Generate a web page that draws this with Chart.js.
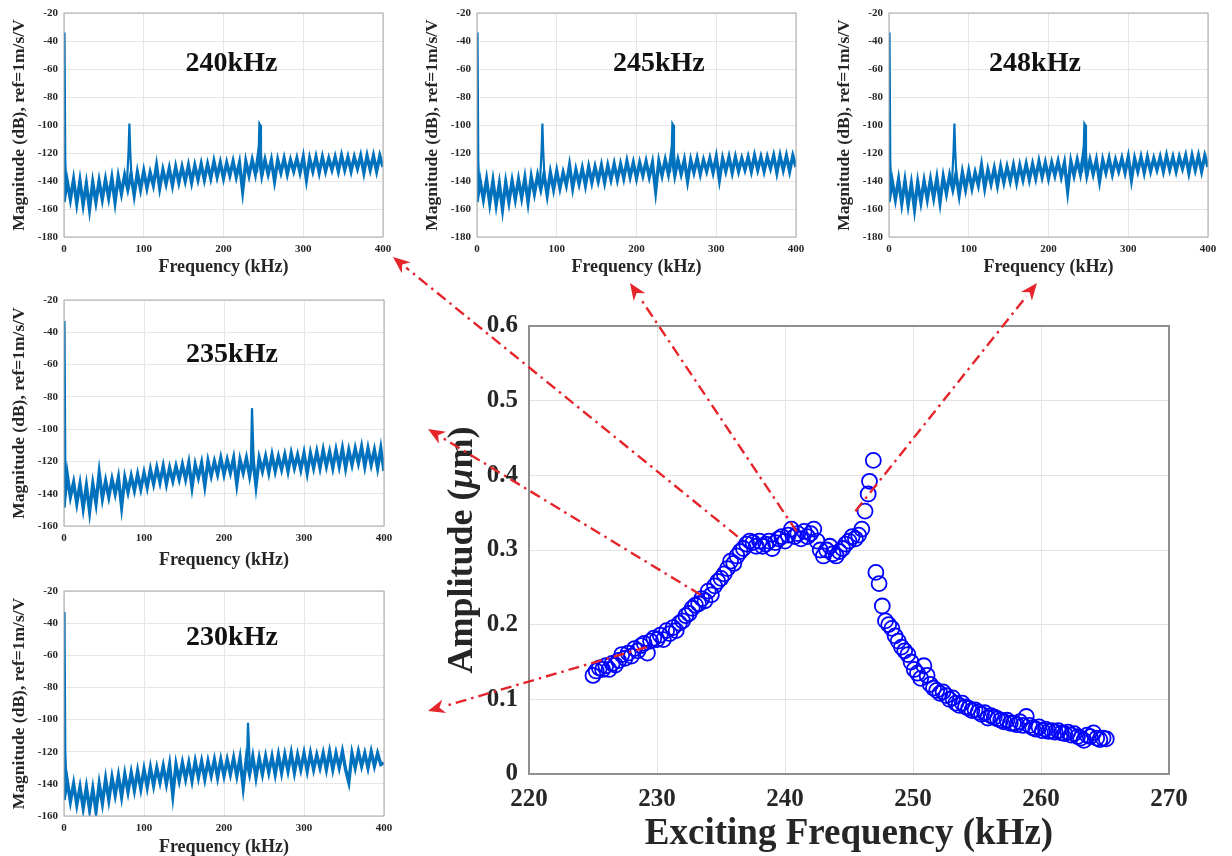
<!DOCTYPE html>
<html>
<head>
<meta charset="utf-8">
<title>Frequency response and spectra</title>
<script src="https://cdn.jsdelivr.net/npm/chart.js@4.4.1/dist/chart.umd.min.js"></script>
<style>
  html, body { margin: 0; padding: 0; background: #fff; }
  body { width: 1232px; height: 856px; position: relative; overflow: hidden; font-family: "Liberation Serif", "Times New Roman", serif; }
  .panel { position: absolute; }
  #arrows { position: absolute; left: 0; top: 0; pointer-events: none; }
  #ampTitle {
    position: absolute; left: 310px; top: 530px; width: 300px; height: 40px; line-height: 40px;
    text-align: center; font-weight: bold; font-size: 36px; color: #262626; white-space: nowrap;
    transform: rotate(-90deg); transform-origin: 50% 50%;
  }
</style>
</head>
<body>
<div class="panel" style="left:0;top:0;width:400px;height:280px"><canvas id="s240"></canvas></div>
<div class="panel" style="left:413px;top:0;width:400px;height:280px"><canvas id="s245"></canvas></div>
<div class="panel" style="left:825px;top:0;width:400px;height:280px"><canvas id="s248"></canvas></div>
<div class="panel" style="left:0;top:287px;width:400px;height:285px"><canvas id="s235"></canvas></div>
<div class="panel" style="left:0;top:578px;width:400px;height:278px"><canvas id="s230"></canvas></div>
<div class="panel" style="left:420px;top:300px;width:812px;height:556px"><canvas id="main"></canvas></div>
<div id="ampTitle">Amplitude (<i>μ</i>m)</div>
<canvas id="arrows" width="1232" height="856"></canvas>

<script>
// ---- sweep: exciting frequency (kHz) vs amplitude (um)
const ampFreq = [
  225.00, 225.25, 225.50, 225.75, 226.00, 226.25, 226.50, 226.75, 227.00, 227.25,
  227.50, 227.75, 228.00, 228.25, 228.50, 228.75, 229.00, 229.25, 229.50, 229.75,
  230.00, 230.25, 230.50, 230.75, 231.00, 231.25, 231.50, 231.75, 232.00, 232.25,
  232.50, 232.75, 233.00, 233.25, 233.50, 233.75, 234.00, 234.25, 234.50, 234.75,
  235.00, 235.25, 235.50, 235.75, 236.00, 236.25, 236.50, 236.75, 237.00, 237.25,
  237.50, 237.75, 238.00, 238.25, 238.50, 238.75, 239.00, 239.25, 239.50, 239.75,
  240.00, 240.25, 240.50, 240.75, 241.00, 241.25, 241.50, 241.75, 242.00, 242.25,
  242.50, 242.75, 243.00, 243.25, 243.50, 243.75, 244.00, 244.25, 244.50, 244.75,
  245.00, 245.25, 245.50, 245.75, 246.00, 246.25, 246.50, 246.60, 246.90, 247.10,
  247.35, 247.60, 247.85, 248.10, 248.35, 248.60, 248.85, 249.10, 249.35, 249.60,
  249.85, 250.10, 250.35, 250.60, 250.85, 251.10, 251.35, 251.60, 251.85, 252.10,
  252.35, 252.60, 252.85, 253.10, 253.35, 253.60, 253.85, 254.10, 254.35, 254.60,
  254.85, 255.10, 255.35, 255.60, 255.85, 256.10, 256.35, 256.60, 256.85, 257.10,
  257.35, 257.60, 257.85, 258.10, 258.35, 258.60, 258.85, 259.10, 259.35, 259.60,
  259.85, 260.10, 260.35, 260.60, 260.85, 261.10, 261.35, 261.60, 261.85, 262.10,
  262.35, 262.60, 262.85, 263.10, 263.35, 263.60, 263.85, 264.10, 264.35, 264.60,
  264.85, 265.10
];
const ampValue = [
  0.132, 0.138, 0.142, 0.140, 0.145, 0.140, 0.148, 0.146, 0.152, 0.160,
  0.155, 0.162, 0.158, 0.168, 0.165, 0.172, 0.175, 0.162, 0.178, 0.182,
  0.180, 0.186, 0.180, 0.192, 0.188, 0.196, 0.192, 0.202, 0.205, 0.212,
  0.215, 0.222, 0.226, 0.228, 0.235, 0.232, 0.245, 0.240, 0.252, 0.258,
  0.262, 0.268, 0.275, 0.285, 0.282, 0.292, 0.298, 0.302, 0.308, 0.312,
  0.310, 0.305, 0.312, 0.305, 0.308, 0.312, 0.302, 0.310, 0.315, 0.318,
  0.312, 0.320, 0.328, 0.318, 0.322, 0.315, 0.325, 0.318, 0.322, 0.328,
  0.312, 0.300, 0.292, 0.300, 0.305, 0.295, 0.292, 0.298, 0.302, 0.308,
  0.312, 0.318, 0.315, 0.320, 0.328, 0.352, 0.375, 0.392, 0.420, 0.270,
  0.255, 0.225, 0.205, 0.200, 0.195, 0.185, 0.178, 0.170, 0.165, 0.160,
  0.150, 0.140, 0.135, 0.128, 0.145, 0.132, 0.120, 0.115, 0.112, 0.108,
  0.110, 0.105, 0.100, 0.102, 0.095, 0.092, 0.095, 0.090, 0.088, 0.085,
  0.086, 0.083, 0.080, 0.082, 0.075, 0.078, 0.076, 0.074, 0.072, 0.070,
  0.072, 0.068, 0.068, 0.066, 0.070, 0.065, 0.077, 0.065, 0.062, 0.060,
  0.063, 0.058, 0.060, 0.057, 0.058, 0.056, 0.058, 0.055, 0.054, 0.056,
  0.052, 0.054, 0.050, 0.048, 0.045, 0.052, 0.050, 0.055, 0.048, 0.046,
  0.048, 0.047
];

// ---- spectra (dB re 1 m/s/V), sampled every 4 kHz from 0 to 400 kHz
const specFreq = [
  0, 4, 8, 12, 16, 20, 24, 28, 32, 36, 40, 44, 48, 52, 56, 60, 64, 68, 72, 76,
  80, 84, 88, 92, 96, 100, 104, 108, 112, 116, 120, 124, 128, 132, 136, 140, 144, 148, 152, 156,
  160, 164, 168, 172, 176, 180, 184, 188, 192, 196, 200, 204, 208, 212, 216, 220, 224, 228, 232, 236,
  240, 244, 248, 252, 256, 260, 264, 268, 272, 276, 280, 284, 288, 292, 296, 300, 304, 308, 312, 316,
  320, 324, 328, 332, 336, 340, 344, 348, 352, 356, 360, 364, 368, 372, 376, 380, 384, 388, 392, 396,
  400
];
const noise240 = [
  -155, -140, -153, -139, -156, -140, -157, -142, -160, -141,
  -155, -140, -153, -139, -152, -138, -155, -137, -149, -136,
  -146, -135, -150, -134, -146, -133, -145, -134, -143, -129,
  -145, -132, -142, -131, -143, -130, -141, -130, -140, -129,
  -141, -129, -139, -128, -139, -128, -138, -126, -137, -127,
  -138, -127, -136, -126, -137, -127, -147, -126, -136, -125,
  -135, -120, -136, -125, -135, -125, -140, -125, -134, -124,
  -135, -125, -133, -124, -134, -123, -139, -124, -133, -123,
  -134, -123, -133, -124, -132, -123, -133, -122, -132, -123,
  -133, -123, -131, -122, -134, -122, -132, -122, -133, -122,
  -130
];
const noise245 = noise240;
const noise248 = noise240;
const noise235 = [
  -148, -128, -142, -133, -146, -134, -149, -135, -151, -134,
  -146, -127, -143, -132, -142, -131, -140, -130, -148, -130,
  -139, -129, -138, -128, -137, -127, -136, -125, -134, -124,
  -133, -123, -134, -124, -132, -123, -131, -122, -131, -121,
  -136, -122, -130, -121, -135, -120, -129, -120, -128, -118,
  -128, -119, -127, -118, -134, -119, -127, -118, -129, -117,
  -135, -118, -126, -117, -127, -116, -126, -117, -125, -116,
  -126, -115, -124, -116, -125, -115, -127, -115, -124, -114,
  -124, -113, -123, -114, -124, -113, -123, -112, -124, -113,
  -122, -112, -121, -111, -123, -112, -122, -113, -124, -112,
  -126
];
const noise230 = [
  -150, -138, -151, -140, -153, -142, -155, -142, -156, -143,
  -157, -140, -152, -137, -150, -136, -147, -135, -148, -134,
  -145, -133, -144, -132, -143, -131, -142, -130, -141, -130,
  -139, -129, -140, -128, -147, -128, -138, -127, -137, -127,
  -138, -126, -136, -126, -137, -126, -135, -125, -136, -125,
  -135, -125, -134, -124, -135, -124, -142, -124, -134, -123,
  -136, -124, -134, -123, -133, -123, -134, -122, -133, -122,
  -132, -121, -133, -122, -131, -121, -132, -121, -131, -122,
  -130, -121, -131, -120, -131, -121, -130, -120, -131, -139,
  -121, -130, -120, -129, -121, -130, -120, -129, -121, -128,
  -127
];

// narrow lines on top of the noise floor: [kHz, dB]
const dcLine = [[0, -152], [0.4, -34], [0.9, -34], [1.6, -126], [3, -146]];
const dcLine235 = [[0, -148], [0.4, -33], [0.9, -33], [1.6, -120], [3, -138]];
const peaksTop = [
  [[79, -141], [81, -118], [82, -99], [83, -118], [85, -142]],
  [[242, -134], [244, -121], [245, -99], [246, -100], [247, -120], [249, -136]]
];
const peaks235 = [[[233.5, -124], [235, -87], [236, -87], [237.5, -126]]];
const peaks230 = [[[228.5, -130], [230, -102], [231, -102], [232.5, -131]]];

const serif = '"Liberation Serif", "Times New Roman", serif';
const specBlue = '#0072BD';
const textDark = '#262626';

// box around the plot area, MATLAB style
const frameBox = {
  id: 'frameBox',
  afterDraw(chart, args, opts) {
    const { ctx, chartArea: a } = chart;
    ctx.save();
    ctx.strokeStyle = opts.color || '#9a9a9a';
    ctx.lineWidth = opts.width || 1;
    ctx.strokeRect(a.left, a.top, a.right - a.left, a.bottom - a.top);
    ctx.restore();
  }
};

// excitation label written inside each spectrum
const panelLabel = {
  id: 'panelLabel',
  afterDatasetsDraw(chart, args, opts) {
    if (!opts.text) return;
    const { ctx } = chart;
    ctx.save();
    ctx.font = 'bold 28px ' + serif;
    ctx.fillStyle = '#111';
    ctx.textAlign = 'center';
    ctx.textBaseline = 'middle';
    ctx.fillText(opts.text, chart.scales.x.getPixelForValue(opts.x), chart.scales.y.getPixelForValue(opts.y));
    ctx.restore();
  }
};

Chart.register(frameBox, panelLabel);

function spectrum(id, cfg) {
  const lineOpts = { borderColor: specBlue, borderWidth: 2.2, pointRadius: 0, tension: 0, fill: false };
  const datasets = [
    // miter joins give the noise floor its ragged edge
    { ...lineOpts, borderWidth: 3.4, borderJoinStyle: 'miter', data: specFreq.map((f, i) => ({ x: f, y: cfg.noise[i] })) },
    { ...lineOpts, data: cfg.dc.map(p => ({ x: p[0], y: p[1] })) }
  ];
  cfg.peaks.forEach(pk => datasets.push({ ...lineOpts, data: pk.map(p => ({ x: p[0], y: p[1] })) }));

  return new Chart(document.getElementById(id), {
    type: 'line',
    data: { datasets },
    options: {
      responsive: true,
      maintainAspectRatio: false,
      animation: false,
      layout: { padding: { top: 13, right: cfg.right, left: 0, bottom: 0 } },
      plugins: {
        legend: { display: false },
        tooltip: { enabled: false },
        frameBox: { color: '#a8a8a8', width: 1 },
        panelLabel: { text: cfg.label, x: cfg.labelX, y: cfg.labelY }
      },
      scales: {
        x: {
          type: 'linear', min: 0, max: 400,
          grid: { color: '#e6e6e6', drawTicks: false },
          border: { display: false },
          ticks: { stepSize: 100, padding: 6, color: textDark, font: { family: serif, size: 11, weight: 'bold' } },
          title: { display: true, text: 'Frequency (kHz)', color: textDark, padding: { top: 0, bottom: cfg.titlePad }, font: { family: serif, size: 18, weight: 'bold', lineHeight: 1 } },
          afterFit: s => { s.height = cfg.xh; }
        },
        y: {
          min: cfg.yMin, max: -20,
          grid: { color: '#e6e6e6', drawTicks: false },
          border: { display: false },
          ticks: { stepSize: 20, padding: 6, color: textDark, font: { family: serif, size: 11, weight: 'bold' }, callback: v => String(v) },
          title: { display: true, text: 'Magnitude (dB), ref=1m/s/V', color: textDark, padding: { top: 11, bottom: 0 }, font: { family: serif, size: 17.5, weight: 'bold', lineHeight: 1 } },
          afterFit: s => { s.width = 64; }
        }
      }
    }
  });
}

spectrum('s240', { noise: noise240, dc: dcLine, peaks: peaksTop, yMin: -180, label: '240kHz', labelX: 210, labelY: -56, right: 17, xh: 43, titlePad: 4 });
spectrum('s245', { noise: noise245, dc: dcLine, peaks: peaksTop, yMin: -180, label: '245kHz', labelX: 228, labelY: -56, right: 17, xh: 43, titlePad: 4 });
spectrum('s248', { noise: noise248, dc: dcLine, peaks: peaksTop, yMin: -180, label: '248kHz', labelX: 183, labelY: -56, right: 17, xh: 43, titlePad: 4 });
spectrum('s235', { noise: noise235, dc: dcLine235, peaks: peaks235, yMin: -160, label: '235kHz', labelX: 210, labelY: -54, right: 16, xh: 46, titlePad: 3 });
spectrum('s230', { noise: noise230, dc: dcLine235, peaks: peaks230, yMin: -160, label: '230kHz', labelX: 210, labelY: -49, right: 16, xh: 40, titlePad: 0 });

// red dash-dot pointers from the sweep to the matching spectrum
const pointerFrom = [[229.2, 0.170], [233.4, 0.240], [236.3, 0.318], [240.9, 0.325], [245.5, 0.352]];
const pointerTip = [[428, 711], [428, 429], [393, 257], [630, 283], [1037, 283]];

const pointers = {
  id: 'pointers',
  afterRender(chart) {
    const cv = document.getElementById('arrows');
    const ctx = cv.getContext('2d');
    const box = chart.canvas.getBoundingClientRect();
    ctx.clearRect(0, 0, cv.width, cv.height);
    ctx.strokeStyle = '#e4252b';
    ctx.fillStyle = '#e4252b';
    ctx.lineWidth = 2.4;
    pointerFrom.forEach((p, i) => {
      const x0 = box.left + chart.scales.x.getPixelForValue(p[0]);
      const y0 = box.top + chart.scales.y.getPixelForValue(p[1]);
      const [x1, y1] = pointerTip[i];
      const ang = Math.atan2(y1 - y0, x1 - x0);
      const hl = 17, hw = 7;
      const bx = x1 - hl * Math.cos(ang), by = y1 - hl * Math.sin(ang);
      ctx.setLineDash([11, 5, 2.5, 5]);
      ctx.beginPath();
      ctx.moveTo(x0, y0);
      ctx.lineTo(bx, by);
      ctx.stroke();
      ctx.setLineDash([]);
      ctx.beginPath();
      ctx.moveTo(x1, y1);
      ctx.lineTo(bx + hw * Math.sin(ang), by - hw * Math.cos(ang));
      ctx.lineTo(x1 - hl * 0.7 * Math.cos(ang), y1 - hl * 0.7 * Math.sin(ang));
      ctx.lineTo(bx - hw * Math.sin(ang), by + hw * Math.cos(ang));
      ctx.closePath();
      ctx.fill();
    });
  }
};

new Chart(document.getElementById('main'), {
  type: 'scatter',
  data: {
    datasets: [{
      data: ampFreq.map((f, i) => ({ x: f, y: ampValue[i] })),
      pointStyle: 'circle',
      pointRadius: 7.5,
      pointBorderWidth: 1.8,
      borderColor: '#0000ff',
      backgroundColor: 'rgba(0,0,0,0)',
      showLine: false
    }]
  },
  options: {
    responsive: true,
    maintainAspectRatio: false,
    animation: false,
    layout: { padding: { top: 23, right: 63, left: 0, bottom: 0 } },
    plugins: {
      legend: { display: false },
      tooltip: { enabled: false },
      frameBox: { color: '#8f8f8f', width: 2 }
    },
    scales: {
      x: {
        type: 'linear', min: 220, max: 270,
        grid: { color: '#e3e3e3', drawTicks: false },
        border: { display: false },
        ticks: { stepSize: 10, padding: 11, color: textDark, font: { family: serif, size: 25, weight: 'bold' } },
        title: { display: true, text: 'Exciting Frequency (kHz)', color: textDark, padding: { top: 0, bottom: 1 }, font: { family: serif, size: 37, weight: 'bold', lineHeight: 1.1 } },
        afterFit: s => { s.height = 82; }
      },
      y: {
        min: 0, max: 0.6,
        grid: { color: '#e3e3e3', drawTicks: false },
        border: { display: false },
        ticks: { stepSize: 0.1, padding: 11, color: textDark, font: { family: serif, size: 25, weight: 'bold' }, callback: v => v === 0 ? '0' : v.toFixed(1) },
        afterFit: s => { s.width = 109; }
      }
    }
  },
  plugins: [pointers]
});
</script>
</body>
</html>
